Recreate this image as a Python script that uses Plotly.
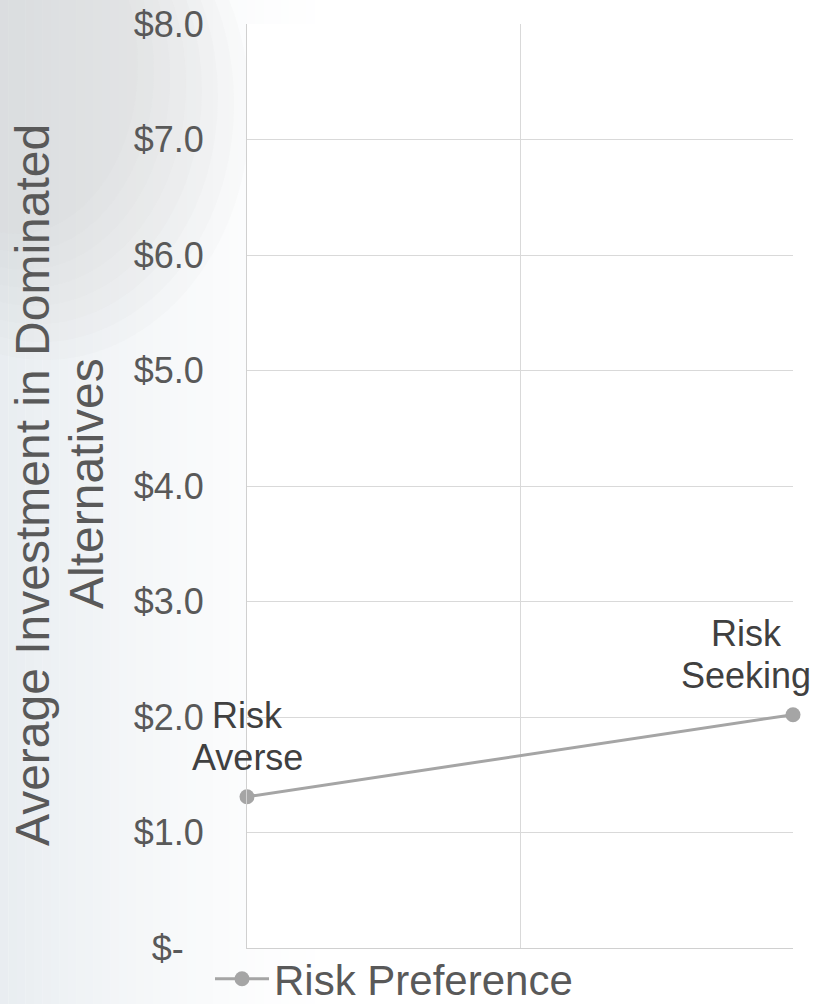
import plotly.graph_objects as go

# Data
categories = ["Risk Averse", "Risk Seeking"]
label_lines = [["Risk", "Averse"], ["Risk", "Seeking"]]
values = [1.31, 2.02]
x_pos = [0, 1]
y_ticks = [0, 1, 2, 3, 4, 5, 6, 7, 8]
y_ticktext = ["$-\u00a0\u00a0", "$1.0", "$2.0", "$3.0", "$4.0", "$5.0", "$6.0", "$7.0", "$8.0"]
series_name = "Risk Preference"
y_title_lines = ["Average Investment in Dominated", "Alternatives"]

W, H = 815, 1004
L, R, T, B = 247, 22, 24, 56
pw = W - L - R
ph = H - T - B
FONT = "Liberation Sans, Arial"

def px_x(px):
    return (px - L) / pw

def px_y(py):
    return 1 - (py - T) / ph

fig = go.Figure()

fig.add_trace(go.Scatter(
    x=x_pos, y=values, mode="lines+markers", name=series_name,
    line=dict(color="#a5a5a5", width=3),
    marker=dict(color="#a5a5a5", size=15),
    hoverinfo="skip", cliponaxis=False,
))

# data labels (two lines each)
label_shift = [0, -47]
for xi, yi, lines, s in zip(x_pos, values, label_lines, label_shift):
    n = len(lines)
    for k, t in enumerate(lines):
        fig.add_annotation(x=xi, y=yi, text=t, showarrow=False, xref="x", yref="y",
                           yanchor="bottom", xanchor="center", xshift=s,
                           yshift=17 + 42 * (n - 1 - k),
                           font=dict(family=FONT, size=36, color="#404040"))

# axis title (two lines)
title_x = [32, 86]
title_y = [485, 484]
for t, tx, ty in zip(y_title_lines, title_x, title_y):
    fig.add_annotation(x=px_x(tx), y=px_y(ty), xref="paper", yref="paper", text=t,
                       textangle=-90, showarrow=False, xanchor="center", yanchor="middle",
                       font=dict(family=FONT, size=48, color="#595959"))

# background gradient on the left
n = 40
x0px, x1px = 0, 340
for i in range(n):
    a = x0px + (x1px - x0px) * i / n
    b = x0px + (x1px - x0px) * (i + 1) / n
    op = 0.75 * (1 - i / n) ** 1.5
    fig.add_shape(type="rect", xref="paper", yref="paper",
                  x0=px_x(a), x1=px_x(b), y0=-1, y1=2,
                  fillcolor="rgb(225,231,236)", line=dict(width=0),
                  opacity=op, layer="below")
# faint image-like top-left area
for i in range(8):
    fig.add_shape(type="circle", xref="paper", yref="paper",
                  x0=px_x(-160 + i * 8), x1=px_x(250 - i * 16),
                  y0=px_y(360 - i * 18), y1=px_y(-140 + i * 5),
                  fillcolor="rgb(200,203,205)", line=dict(width=0), opacity=0.06, layer="below")

# plot area white background
fig.add_shape(type="rect", xref="paper", yref="paper", x0=0, x1=1, y0=0, y1=1,
              fillcolor="white", line=dict(width=0), layer="below")

fig.update_layout(
    width=W, height=H,
    margin=dict(l=L, r=R, t=T, b=B, autoexpand=False),
    paper_bgcolor="white",
    plot_bgcolor="rgba(0,0,0,0)",
    font=dict(family=FONT, color="#595959"),
    showlegend=True,
    legend=dict(orientation="h", x=px_x(210), xanchor="left", y=px_y(979), yanchor="middle",
                font=dict(size=42, color="#595959"), bgcolor="rgba(0,0,0,0)",
                itemwidth=54),
    xaxis=dict(range=[0, 1], tickvals=[0, 0.5, 1], showticklabels=False,
               showgrid=True, gridcolor="#d9d9d9", gridwidth=1, automargin=False,
               zeroline=False, showline=True, linecolor="#d0d0d0", linewidth=1,
               fixedrange=True),
    yaxis=dict(range=[0, 8], tickvals=y_ticks, ticktext=y_ticktext,
               showgrid=True, gridcolor="#d9d9d9", gridwidth=1, automargin=False,
               zeroline=False, showline=True, linecolor="#d0d0d0", linewidth=1,
               tickfont=dict(family=FONT, size=36, color="#595959"), ticklabelstandoff=35,
               ticks="", fixedrange=True),
)

fig.write_html("out.html")
